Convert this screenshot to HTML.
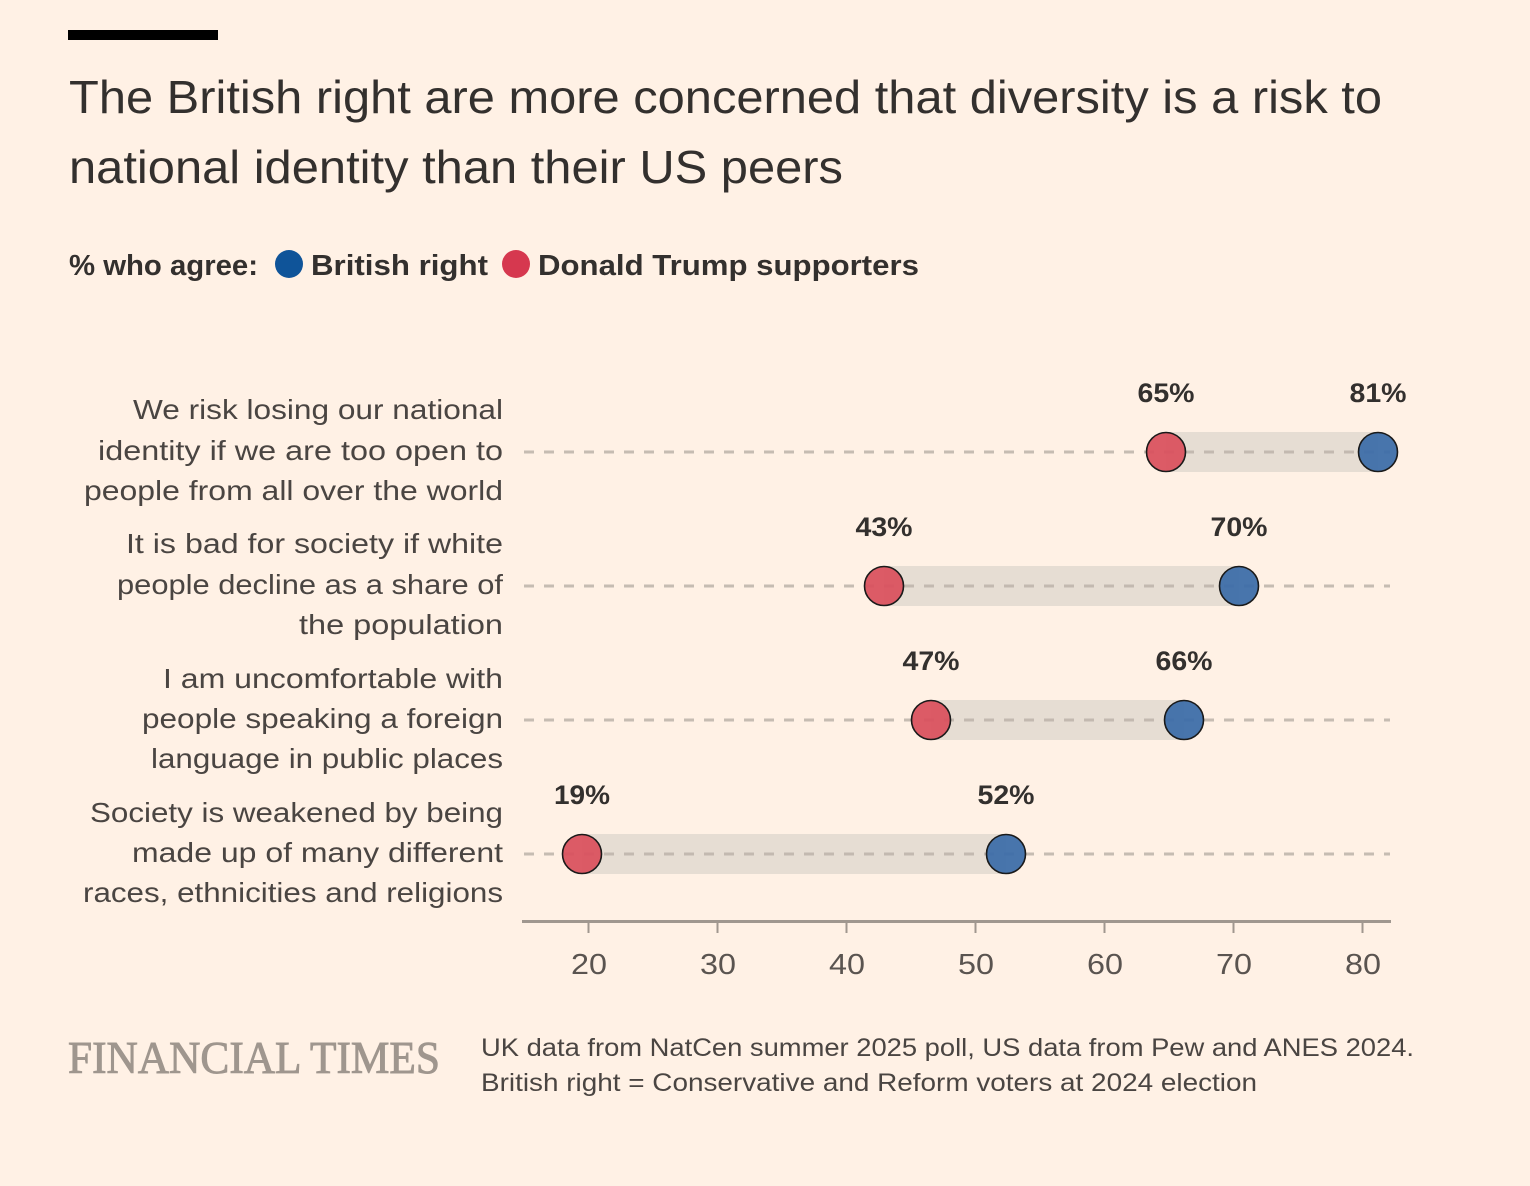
<!DOCTYPE html>
<html><head><meta charset="utf-8"><style>
html,body{margin:0;padding:0;background:#fff1e5;}
svg{display:block;}
text{font-family:"Liberation Sans",sans-serif;}
</style></head><body>
<svg width="1530" height="1186" viewBox="0 0 1530 1186" xmlns="http://www.w3.org/2000/svg">
<rect width="1530" height="1186" fill="#fff1e5"/>
<rect x="68" y="30" width="150" height="10" fill="#000"/>
<text x="69" y="113" font-size="46" fill="#33302e" textLength="1313" lengthAdjust="spacingAndGlyphs">The British right are more concerned that diversity is a risk to</text>
<text x="69" y="183" font-size="46" fill="#33302e" textLength="774" lengthAdjust="spacingAndGlyphs">national identity than their US peers</text>

<text x="69" y="275" font-size="29" font-weight="700" fill="#33302e" textLength="189" lengthAdjust="spacingAndGlyphs">% who agree:</text>
<circle cx="289" cy="264" r="14" fill="#0f5499"/>
<text x="311" y="275" font-size="29" font-weight="700" fill="#33302e" textLength="177" lengthAdjust="spacingAndGlyphs">British right</text>
<circle cx="516" cy="264" r="14" fill="#cc0a29" opacity="0.8"/>
<text x="538" y="275" font-size="29" font-weight="700" fill="#33302e" textLength="381" lengthAdjust="spacingAndGlyphs">Donald Trump supporters</text>

<!-- y labels -->
<g font-size="28" fill="#4a4542">
<text x="133" y="419" textLength="370" lengthAdjust="spacingAndGlyphs">We risk losing our national</text>
<text x="98" y="460" textLength="405" lengthAdjust="spacingAndGlyphs">identity if we are too open to</text>
<text x="84" y="500" textLength="419" lengthAdjust="spacingAndGlyphs">people from all over the world</text>
<text x="126" y="553" textLength="377" lengthAdjust="spacingAndGlyphs">It is bad for society if white</text>
<text x="117" y="594" textLength="386" lengthAdjust="spacingAndGlyphs">people decline as a share of</text>
<text x="299" y="634" textLength="204" lengthAdjust="spacingAndGlyphs">the population</text>
<text x="163" y="688" textLength="340" lengthAdjust="spacingAndGlyphs">I am uncomfortable with</text>
<text x="142" y="728" textLength="361" lengthAdjust="spacingAndGlyphs">people speaking a foreign</text>
<text x="151" y="768" textLength="352" lengthAdjust="spacingAndGlyphs">language in public places</text>
<text x="90" y="822" textLength="413" lengthAdjust="spacingAndGlyphs">Society is weakened by being</text>
<text x="132" y="862" textLength="371" lengthAdjust="spacingAndGlyphs">made up of many different</text>
<text x="83" y="902" textLength="420" lengthAdjust="spacingAndGlyphs">races, ethnicities and religions</text>
</g>

<!-- bands -->
<g fill="#e6ddd3">
<rect x="1166" y="432" width="212" height="40"/>
<rect x="884" y="566" width="355" height="40"/>
<rect x="931" y="700" width="253" height="40"/>
<rect x="582" y="834" width="424" height="40"/>
</g>
<!-- dashed gridlines -->
<g stroke="#bdb3aa" stroke-width="3" stroke-dasharray="10 10" opacity="0.85">
<line x1="524" y1="452" x2="1390" y2="452"/>
<line x1="524" y1="586" x2="1390" y2="586"/>
<line x1="524" y1="720" x2="1390" y2="720"/>
<line x1="524" y1="854" x2="1390" y2="854"/>
</g>
<!-- dots -->
<g stroke="#1a1a1a" stroke-width="1.6">
<circle cx="1166" cy="452" r="19.5" fill="#d9505c" fill-opacity="0.93"/>
<circle cx="1378" cy="452" r="19.5" fill="#3a6ca8" fill-opacity="0.93"/>
<circle cx="884" cy="586" r="19.5" fill="#d9505c" fill-opacity="0.93"/>
<circle cx="1239" cy="586" r="19.5" fill="#3a6ca8" fill-opacity="0.93"/>
<circle cx="931" cy="720" r="19.5" fill="#d9505c" fill-opacity="0.93"/>
<circle cx="1184" cy="720" r="19.5" fill="#3a6ca8" fill-opacity="0.93"/>
<circle cx="582" cy="854" r="19.5" fill="#d9505c" fill-opacity="0.93"/>
<circle cx="1006" cy="854" r="19.5" fill="#3a6ca8" fill-opacity="0.93"/>
</g>
<!-- value labels -->
<g font-size="27" font-weight="700" fill="#33302e" text-anchor="middle">
<text x="1166" y="402" textLength="57" lengthAdjust="spacingAndGlyphs">65%</text>
<text x="1378" y="402" textLength="57" lengthAdjust="spacingAndGlyphs">81%</text>
<text x="884" y="536" textLength="57" lengthAdjust="spacingAndGlyphs">43%</text>
<text x="1239" y="536" textLength="57" lengthAdjust="spacingAndGlyphs">70%</text>
<text x="931" y="670" textLength="57" lengthAdjust="spacingAndGlyphs">47%</text>
<text x="1184" y="670" textLength="57" lengthAdjust="spacingAndGlyphs">66%</text>
<text x="582" y="804" textLength="56" lengthAdjust="spacingAndGlyphs">19%</text>
<text x="1006" y="804" textLength="57" lengthAdjust="spacingAndGlyphs">52%</text>
</g>

<!-- axis -->
<line x1="522" y1="921.5" x2="1391" y2="921.5" stroke="#a0978f" stroke-width="3"/>
<g stroke="#a0978f" stroke-width="2">
<line x1="588.5" y1="921" x2="588.5" y2="933"/>
<line x1="717.5" y1="921" x2="717.5" y2="933"/>
<line x1="846.5" y1="921" x2="846.5" y2="933"/>
<line x1="975.5" y1="921" x2="975.5" y2="933"/>
<line x1="1104.5" y1="921" x2="1104.5" y2="933"/>
<line x1="1233.5" y1="921" x2="1233.5" y2="933"/>
<line x1="1362.5" y1="921" x2="1362.5" y2="933"/>
</g>
<g font-size="29" fill="#5a5450" text-anchor="middle">
<text x="589" y="974" textLength="36" lengthAdjust="spacingAndGlyphs">20</text>
<text x="718" y="974" textLength="36" lengthAdjust="spacingAndGlyphs">30</text>
<text x="847" y="974" textLength="36" lengthAdjust="spacingAndGlyphs">40</text>
<text x="976" y="974" textLength="36" lengthAdjust="spacingAndGlyphs">50</text>
<text x="1105" y="974" textLength="36" lengthAdjust="spacingAndGlyphs">60</text>
<text x="1234" y="974" textLength="36" lengthAdjust="spacingAndGlyphs">70</text>
<text x="1363" y="974" textLength="36" lengthAdjust="spacingAndGlyphs">80</text>
</g>

<!-- footer -->
<text x="68" y="1073" style="font-family:'Liberation Serif',serif" font-size="45" fill="#9f968e" stroke="#9f968e" stroke-width="0.9" textLength="372" lengthAdjust="spacingAndGlyphs">FINANCIAL TIMES</text>
<g font-size="25" fill="#4a4542">
<text x="481" y="1056" textLength="933" lengthAdjust="spacingAndGlyphs">UK data from NatCen summer 2025 poll, US data from Pew and ANES 2024.</text>
<text x="481" y="1091" textLength="776" lengthAdjust="spacingAndGlyphs">British right = Conservative and Reform voters at 2024 election</text>
</g>
</svg>
</body></html>
